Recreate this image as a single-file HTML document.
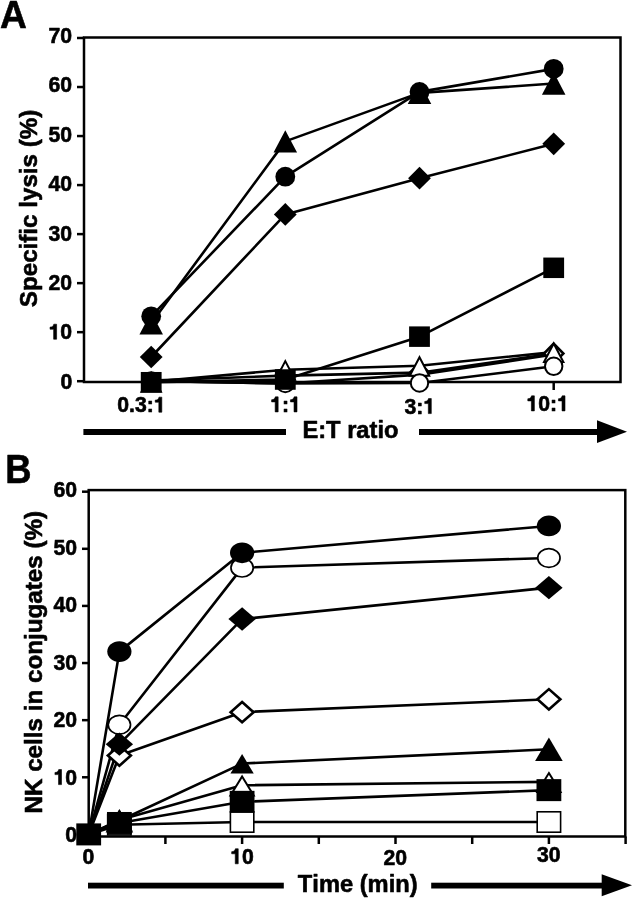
<!DOCTYPE html>
<html><head><meta charset="utf-8"><title>Figure</title>
<style>
html,body{margin:0;padding:0;background:#fff;}
body{width:633px;height:899px;overflow:hidden;}
svg{display:block;filter:grayscale(1);}
text{font-family:"Liberation Sans",sans-serif;font-weight:bold;fill:#000;font-kerning:none;white-space:pre;stroke:#000;stroke-width:0.6px;stroke-linejoin:round;}
.tk{font-size:20.5px;}
.pl{font-size:38.5px;}
.yt{font-size:24px;}
.at{font-size:23px;}
</style></head><body>
<svg width="633" height="899" viewBox="0 0 633 899">
<rect x="0" y="0" width="633" height="899" fill="#fff"/>
<rect x="84" y="37.5" width="536.5" height="344.5" fill="none" stroke="#000" stroke-width="2.5"/>
<line x1="77" y1="381.20" x2="84" y2="381.20" stroke="#000" stroke-width="2.5"/>
<g transform="translate(60.379,388.600) scale(1.0000,1)"><text x="0" y="0" style="font-size:21.200px">0</text></g>
<line x1="77" y1="332.17" x2="84" y2="332.17" stroke="#000" stroke-width="2.5"/>
<g transform="translate(48.589,339.240) scale(1.0000,1)"><text x="0" y="0" style="font-size:21.200px"> 0</text><path d="M378 0L238 0L238 472L69 472L69 572C168 576 222 612 246 710L378 710Z" stroke="#000" stroke-width="28.30" stroke-linejoin="round" transform="translate(0.000,0) scale(0.02120,-0.02120)"/></g>
<line x1="77" y1="283.14" x2="84" y2="283.14" stroke="#000" stroke-width="2.5"/>
<g transform="translate(48.589,289.880) scale(1.0000,1)"><text x="0" y="0" style="font-size:21.200px">20</text></g>
<line x1="77" y1="234.11" x2="84" y2="234.11" stroke="#000" stroke-width="2.5"/>
<g transform="translate(48.589,240.520) scale(1.0000,1)"><text x="0" y="0" style="font-size:21.200px">30</text></g>
<line x1="77" y1="185.08" x2="84" y2="185.08" stroke="#000" stroke-width="2.5"/>
<g transform="translate(48.589,191.160) scale(1.0000,1)"><text x="0" y="0" style="font-size:21.200px">40</text></g>
<line x1="77" y1="136.05" x2="84" y2="136.05" stroke="#000" stroke-width="2.5"/>
<g transform="translate(48.589,141.800) scale(1.0000,1)"><text x="0" y="0" style="font-size:21.200px">50</text></g>
<line x1="77" y1="87.02" x2="84" y2="87.02" stroke="#000" stroke-width="2.5"/>
<g transform="translate(48.589,92.440) scale(1.0000,1)"><text x="0" y="0" style="font-size:21.200px">60</text></g>
<line x1="77" y1="37.99" x2="84" y2="37.99" stroke="#000" stroke-width="2.5"/>
<g transform="translate(48.589,43.080) scale(1.0000,1)"><text x="0" y="0" style="font-size:21.200px">70</text></g>
<line x1="151.20" y1="382" x2="151.20" y2="390" stroke="#000" stroke-width="2.5"/>
<g transform="translate(117.256,412.200) scale(1.0000,1)"><text x="0" y="0" style="font-size:21.200px">0.3: </text><path d="M378 0L238 0L238 472L69 472L69 572C168 576 222 612 246 710L378 710Z" stroke="#000" stroke-width="28.30" stroke-linejoin="round" transform="translate(36.531,0) scale(0.02120,-0.02120)"/></g>
<line x1="285.30" y1="382" x2="285.30" y2="390" stroke="#000" stroke-width="2.5"/>
<g transform="translate(270.136,411.900) scale(1.0000,1)"><text x="0" y="0" style="font-size:21.200px"> : </text><path d="M378 0L238 0L238 472L69 472L69 572C168 576 222 612 246 710L378 710Z" stroke="#000" stroke-width="28.30" stroke-linejoin="round" transform="translate(0.000,0) scale(0.02120,-0.02120)"/><path d="M378 0L238 0L238 472L69 472L69 572C168 576 222 612 246 710L378 710Z" stroke="#000" stroke-width="28.30" stroke-linejoin="round" transform="translate(18.850,0) scale(0.02120,-0.02120)"/></g>
<line x1="419.50" y1="382" x2="419.50" y2="390" stroke="#000" stroke-width="2.5"/>
<g transform="translate(404.436,413.600) scale(1.0000,1)"><text x="0" y="0" style="font-size:21.200px">3: </text><path d="M378 0L238 0L238 472L69 472L69 572C168 576 222 612 246 710L378 710Z" stroke="#000" stroke-width="28.30" stroke-linejoin="round" transform="translate(18.850,0) scale(0.02120,-0.02120)"/></g>
<line x1="553.70" y1="382" x2="553.70" y2="390" stroke="#000" stroke-width="2.5"/>
<g transform="translate(526.346,410.900) scale(1.0000,1)"><text x="0" y="0" style="font-size:21.200px"> 0: </text><path d="M378 0L238 0L238 472L69 472L69 572C168 576 222 612 246 710L378 710Z" stroke="#000" stroke-width="28.30" stroke-linejoin="round" transform="translate(0.000,0) scale(0.02120,-0.02120)"/><path d="M378 0L238 0L238 472L69 472L69 572C168 576 222 612 246 710L378 710Z" stroke="#000" stroke-width="28.30" stroke-linejoin="round" transform="translate(30.641,0) scale(0.02120,-0.02120)"/></g>
<polyline points="151.20,316.32 285.30,176.67 419.50,91.90 553.70,68.87" fill="none" stroke="#000" stroke-width="2.6" stroke-linejoin="round"/>
<polyline points="151.20,323.18 285.30,141.39 419.50,92.88 553.70,83.57" fill="none" stroke="#000" stroke-width="2.6" stroke-linejoin="round"/>
<polyline points="151.20,356.99 285.30,214.40 419.50,178.14 553.70,143.84" fill="none" stroke="#000" stroke-width="2.6" stroke-linejoin="round"/>
<polyline points="151.20,382.23 285.30,379.53 419.50,336.65 553.70,267.81" fill="none" stroke="#000" stroke-width="2.6" stroke-linejoin="round"/>
<polyline points="151.20,381.74 285.30,369.73 419.50,365.81 553.70,352.09" fill="none" stroke="#000" stroke-width="2.6" stroke-linejoin="round"/>
<polyline points="151.20,380.51 285.30,375.61 419.50,372.67 553.70,353.56" fill="none" stroke="#000" stroke-width="2.6" stroke-linejoin="round"/>
<polyline points="151.20,381.00 285.30,383.45 419.50,382.96 553.70,366.30" fill="none" stroke="#000" stroke-width="2.6" stroke-linejoin="round"/>
<polyline points="151.20,381.00 285.30,383.45 419.50,374.63 553.70,354.54" fill="none" stroke="#000" stroke-width="2.6" stroke-linejoin="round"/>
<polygon points="285.30,365.68 294.98,375.61 285.30,385.54 275.62,375.61" fill="#fff" stroke="#000" stroke-width="2.6" stroke-linejoin="miter"/>
<polygon points="419.50,362.74 429.18,372.67 419.50,382.60 409.82,372.67" fill="#fff" stroke="#000" stroke-width="2.6" stroke-linejoin="miter"/>
<polygon points="553.70,343.63 563.38,353.56 553.70,363.49 544.02,353.56" fill="#fff" stroke="#000" stroke-width="2.6" stroke-linejoin="miter"/>
<polygon points="151.20,373.13 160.90,391.74 141.50,391.74" fill="#fff" stroke="#000" stroke-width="2.0" stroke-linejoin="miter" stroke-miterlimit="10"/>
<polygon points="285.30,361.13 295.00,379.73 275.60,379.73" fill="#fff" stroke="#000" stroke-width="2.0" stroke-linejoin="miter" stroke-miterlimit="10"/>
<polygon points="419.50,357.21 429.20,375.81 409.80,375.81" fill="#fff" stroke="#000" stroke-width="2.0" stroke-linejoin="miter" stroke-miterlimit="10"/>
<polygon points="553.70,343.49 563.40,362.09 544.00,362.09" fill="#fff" stroke="#000" stroke-width="2.0" stroke-linejoin="miter" stroke-miterlimit="10"/>
<ellipse cx="151.20" cy="381.00" rx="8.70" ry="8.70" fill="#fff" stroke="#000" stroke-width="2.0"/>
<ellipse cx="285.30" cy="383.45" rx="8.70" ry="8.70" fill="#fff" stroke="#000" stroke-width="2.0"/>
<ellipse cx="419.50" cy="382.96" rx="8.70" ry="8.70" fill="#fff" stroke="#000" stroke-width="2.0"/>
<ellipse cx="553.70" cy="366.30" rx="8.70" ry="8.70" fill="#fff" stroke="#000" stroke-width="2.0"/>
<rect x="140.80" y="371.98" width="20.80" height="20.50" fill="#000"/>
<rect x="274.90" y="369.28" width="20.80" height="20.50" fill="#000"/>
<rect x="409.10" y="326.40" width="20.80" height="20.50" fill="#000"/>
<rect x="543.30" y="257.56" width="20.80" height="20.50" fill="#000"/>
<polygon points="151.20,345.69 162.60,356.99 151.20,368.29 139.80,356.99" fill="#000"/>
<polygon points="285.30,203.10 296.70,214.40 285.30,225.70 273.90,214.40" fill="#000"/>
<polygon points="419.50,166.84 430.90,178.14 419.50,189.44 408.10,178.14" fill="#000"/>
<polygon points="553.70,132.54 565.10,143.84 553.70,155.14 542.30,143.84" fill="#000"/>
<polygon points="151.20,311.98 162.95,334.38 139.45,334.38" fill="#000"/>
<polygon points="285.30,130.19 297.05,152.59 273.55,152.59" fill="#000"/>
<polygon points="419.50,81.68 431.25,104.08 407.75,104.08" fill="#000"/>
<polygon points="553.70,72.37 565.45,94.77 541.95,94.77" fill="#000"/>
<ellipse cx="151.20" cy="316.32" rx="9.90" ry="9.90" fill="#000"/>
<ellipse cx="285.30" cy="176.67" rx="9.90" ry="9.90" fill="#000"/>
<ellipse cx="419.50" cy="91.90" rx="9.90" ry="9.90" fill="#000"/>
<ellipse cx="553.70" cy="68.87" rx="9.90" ry="9.90" fill="#000"/>
<g transform="translate(0.024,28.100) scale(0.9424,1)"><text x="0" y="0" style="font-size:39.463px">A</text></g>
<g transform="translate(37.291,307.197) rotate(-90) scale(1.0020,1)"><text x="0" y="0" style="font-size:24.138px">Specific lysis (%)</text></g>
<rect x="83.4" y="429" width="202.6" height="6" fill="#000"/>
<rect x="419" y="429" width="179" height="6" fill="#000"/>
<polygon points="597,420.2 627,431.8 597,443" fill="#000"/>
<g transform="translate(302.415,438.258) scale(0.9562,1)"><text x="0" y="0" style="font-size:24.783px">E:T ratio</text></g>
<rect x="88.7" y="490.1" width="536.6" height="346.4" fill="none" stroke="#000" stroke-width="2.5"/>
<line x1="82" y1="834.40" x2="88.7" y2="834.40" stroke="#000" stroke-width="2.5"/>
<g transform="translate(65.279,842.100) scale(1.0000,1)"><text x="0" y="0" style="font-size:21.200px">0</text></g>
<line x1="82" y1="777.28" x2="88.7" y2="777.28" stroke="#000" stroke-width="2.5"/>
<g transform="translate(53.489,784.620) scale(1.0000,1)"><text x="0" y="0" style="font-size:21.200px"> 0</text><path d="M378 0L238 0L238 472L69 472L69 572C168 576 222 612 246 710L378 710Z" stroke="#000" stroke-width="28.30" stroke-linejoin="round" transform="translate(0.000,0) scale(0.02120,-0.02120)"/></g>
<line x1="82" y1="720.16" x2="88.7" y2="720.16" stroke="#000" stroke-width="2.5"/>
<g transform="translate(53.489,727.140) scale(1.0000,1)"><text x="0" y="0" style="font-size:21.200px">20</text></g>
<line x1="82" y1="663.04" x2="88.7" y2="663.04" stroke="#000" stroke-width="2.5"/>
<g transform="translate(53.489,669.660) scale(1.0000,1)"><text x="0" y="0" style="font-size:21.200px">30</text></g>
<line x1="82" y1="605.92" x2="88.7" y2="605.92" stroke="#000" stroke-width="2.5"/>
<g transform="translate(53.489,612.180) scale(1.0000,1)"><text x="0" y="0" style="font-size:21.200px">40</text></g>
<line x1="82" y1="548.80" x2="88.7" y2="548.80" stroke="#000" stroke-width="2.5"/>
<g transform="translate(53.489,554.700) scale(1.0000,1)"><text x="0" y="0" style="font-size:21.200px">50</text></g>
<line x1="82" y1="491.68" x2="88.7" y2="491.68" stroke="#000" stroke-width="2.5"/>
<g transform="translate(53.489,497.220) scale(1.0000,1)"><text x="0" y="0" style="font-size:21.200px">60</text></g>
<line x1="88.70" y1="836.5" x2="88.70" y2="844" stroke="#000" stroke-width="2.5"/>
<g transform="translate(82.420,863.600) scale(1.0000,1)"><text x="0" y="0" style="font-size:21.200px">0</text></g>
<line x1="165.40" y1="836.5" x2="165.40" y2="844" stroke="#000" stroke-width="2.5"/>
<line x1="242.10" y1="836.5" x2="242.10" y2="844" stroke="#000" stroke-width="2.5"/>
<g transform="translate(230.213,863.800) scale(1.0000,1)"><text x="0" y="0" style="font-size:21.200px"> 0</text><path d="M378 0L238 0L238 472L69 472L69 572C168 576 222 612 246 710L378 710Z" stroke="#000" stroke-width="28.30" stroke-linejoin="round" transform="translate(0.000,0) scale(0.02120,-0.02120)"/></g>
<line x1="318.80" y1="836.5" x2="318.80" y2="844" stroke="#000" stroke-width="2.5"/>
<line x1="395.50" y1="836.5" x2="395.50" y2="844" stroke="#000" stroke-width="2.5"/>
<g transform="translate(383.377,864.800) scale(1.0000,1)"><text x="0" y="0" style="font-size:21.200px">20</text></g>
<line x1="472.20" y1="836.5" x2="472.20" y2="844" stroke="#000" stroke-width="2.5"/>
<line x1="548.90" y1="836.5" x2="548.90" y2="844" stroke="#000" stroke-width="2.5"/>
<g transform="translate(537.001,862.200) scale(1.0000,1)"><text x="0" y="0" style="font-size:21.200px">30</text></g>
<line x1="625.60" y1="836.5" x2="625.60" y2="844" stroke="#000" stroke-width="2.5"/>
<polyline points="88.70,834.40 119.38,651.62 242.10,552.80 548.90,525.95" fill="none" stroke="#000" stroke-width="2.6" stroke-linejoin="round"/>
<polyline points="88.70,834.40 119.38,724.73 242.10,567.65 548.90,557.94" fill="none" stroke="#000" stroke-width="2.6" stroke-linejoin="round"/>
<polyline points="88.70,834.40 119.38,744.15 242.10,619.06 548.90,587.64" fill="none" stroke="#000" stroke-width="2.6" stroke-linejoin="round"/>
<polyline points="88.70,834.40 119.38,755.57 242.10,712.16 548.90,699.31" fill="none" stroke="#000" stroke-width="2.6" stroke-linejoin="round"/>
<polyline points="88.70,834.40 119.38,820.69 242.10,763.57 548.90,749.29" fill="none" stroke="#000" stroke-width="2.6" stroke-linejoin="round"/>
<polyline points="88.70,834.40 119.38,820.12 242.10,785.28 548.90,781.85" fill="none" stroke="#000" stroke-width="2.6" stroke-linejoin="round"/>
<polyline points="88.70,834.40 119.38,822.98 242.10,801.84 548.90,790.13" fill="none" stroke="#000" stroke-width="2.6" stroke-linejoin="round"/>
<polyline points="88.70,834.40 119.38,824.69 242.10,822.00 548.90,822.00" fill="none" stroke="#000" stroke-width="2.6" stroke-linejoin="round"/>
<rect x="107.68" y="814.49" width="23.40" height="20.40" fill="#fff" stroke="#000" stroke-width="1.6"/>
<rect x="230.40" y="811.80" width="23.40" height="20.40" fill="#fff" stroke="#000" stroke-width="1.6"/>
<rect x="537.20" y="811.80" width="23.40" height="20.40" fill="#fff" stroke="#000" stroke-width="1.6"/>
<polygon points="119.38,745.39 130.86,755.57 119.38,765.75 107.90,755.57" fill="#fff" stroke="#000" stroke-width="2.6" stroke-linejoin="miter"/>
<polygon points="242.10,701.98 253.58,712.16 242.10,722.34 230.62,712.16" fill="#fff" stroke="#000" stroke-width="2.6" stroke-linejoin="miter"/>
<polygon points="548.90,689.13 560.38,699.31 548.90,709.49 537.42,699.31" fill="#fff" stroke="#000" stroke-width="2.6" stroke-linejoin="miter"/>
<polygon points="119.38,811.32 130.98,830.32 107.78,830.32" fill="#fff" stroke="#000" stroke-width="2.0" stroke-linejoin="miter" stroke-miterlimit="10"/>
<polygon points="242.10,776.48 253.70,795.48 230.50,795.48" fill="#fff" stroke="#000" stroke-width="2.0" stroke-linejoin="miter" stroke-miterlimit="10"/>
<polygon points="548.90,773.05 560.50,792.05 537.30,792.05" fill="#fff" stroke="#000" stroke-width="2.0" stroke-linejoin="miter" stroke-miterlimit="10"/>
<ellipse cx="119.38" cy="724.73" rx="11.15" ry="9.35" fill="#fff" stroke="#000" stroke-width="1.7"/>
<ellipse cx="242.10" cy="567.65" rx="11.15" ry="9.35" fill="#fff" stroke="#000" stroke-width="1.7"/>
<ellipse cx="548.90" cy="557.94" rx="11.15" ry="9.35" fill="#fff" stroke="#000" stroke-width="1.7"/>
<rect x="76.30" y="823.40" width="24.80" height="22.00" fill="#000"/>
<rect x="106.98" y="811.98" width="24.80" height="22.00" fill="#000"/>
<rect x="229.70" y="790.84" width="24.80" height="22.00" fill="#000"/>
<rect x="536.50" y="779.13" width="24.80" height="22.00" fill="#000"/>
<polygon points="119.38,732.45 133.08,744.15 119.38,755.85 105.68,744.15" fill="#000"/>
<polygon points="242.10,607.36 255.80,619.06 242.10,630.76 228.40,619.06" fill="#000"/>
<polygon points="548.90,575.94 562.60,587.64 548.90,599.34 535.20,587.64" fill="#000"/>
<polygon points="119.38,808.99 133.18,832.49 105.58,832.49" fill="#000"/>
<polygon points="242.10,754.10 253.75,773.40 230.45,773.40" fill="#000"/>
<polygon points="548.90,737.59 562.70,761.09 535.10,761.09" fill="#000"/>
<ellipse cx="119.38" cy="651.62" rx="12.10" ry="10.35" fill="#000"/>
<ellipse cx="242.10" cy="552.80" rx="12.10" ry="10.35" fill="#000"/>
<ellipse cx="548.90" cy="525.95" rx="12.10" ry="10.35" fill="#000"/>
<g transform="translate(5.265,483.400) scale(0.9074,1)"><text x="0" y="0" style="font-size:40.117px">B</text></g>
<g transform="translate(41.954,813.520) rotate(-90) scale(1.0172,1)"><text x="0" y="0" style="font-size:23.811px">NK cells in conjugates (%)</text></g>
<rect x="88" y="882.7" width="195.8" height="5.8" fill="#000"/>
<rect x="431.2" y="882.7" width="171" height="5.8" fill="#000"/>
<polygon points="601.7,874.2 632,885.3 601.7,896.3" fill="#000"/>
<g transform="translate(297.834,891.880) scale(0.9607,1)"><text x="0" y="0" style="font-size:24.675px">Time (min)</text></g>
</svg>
</body></html>
